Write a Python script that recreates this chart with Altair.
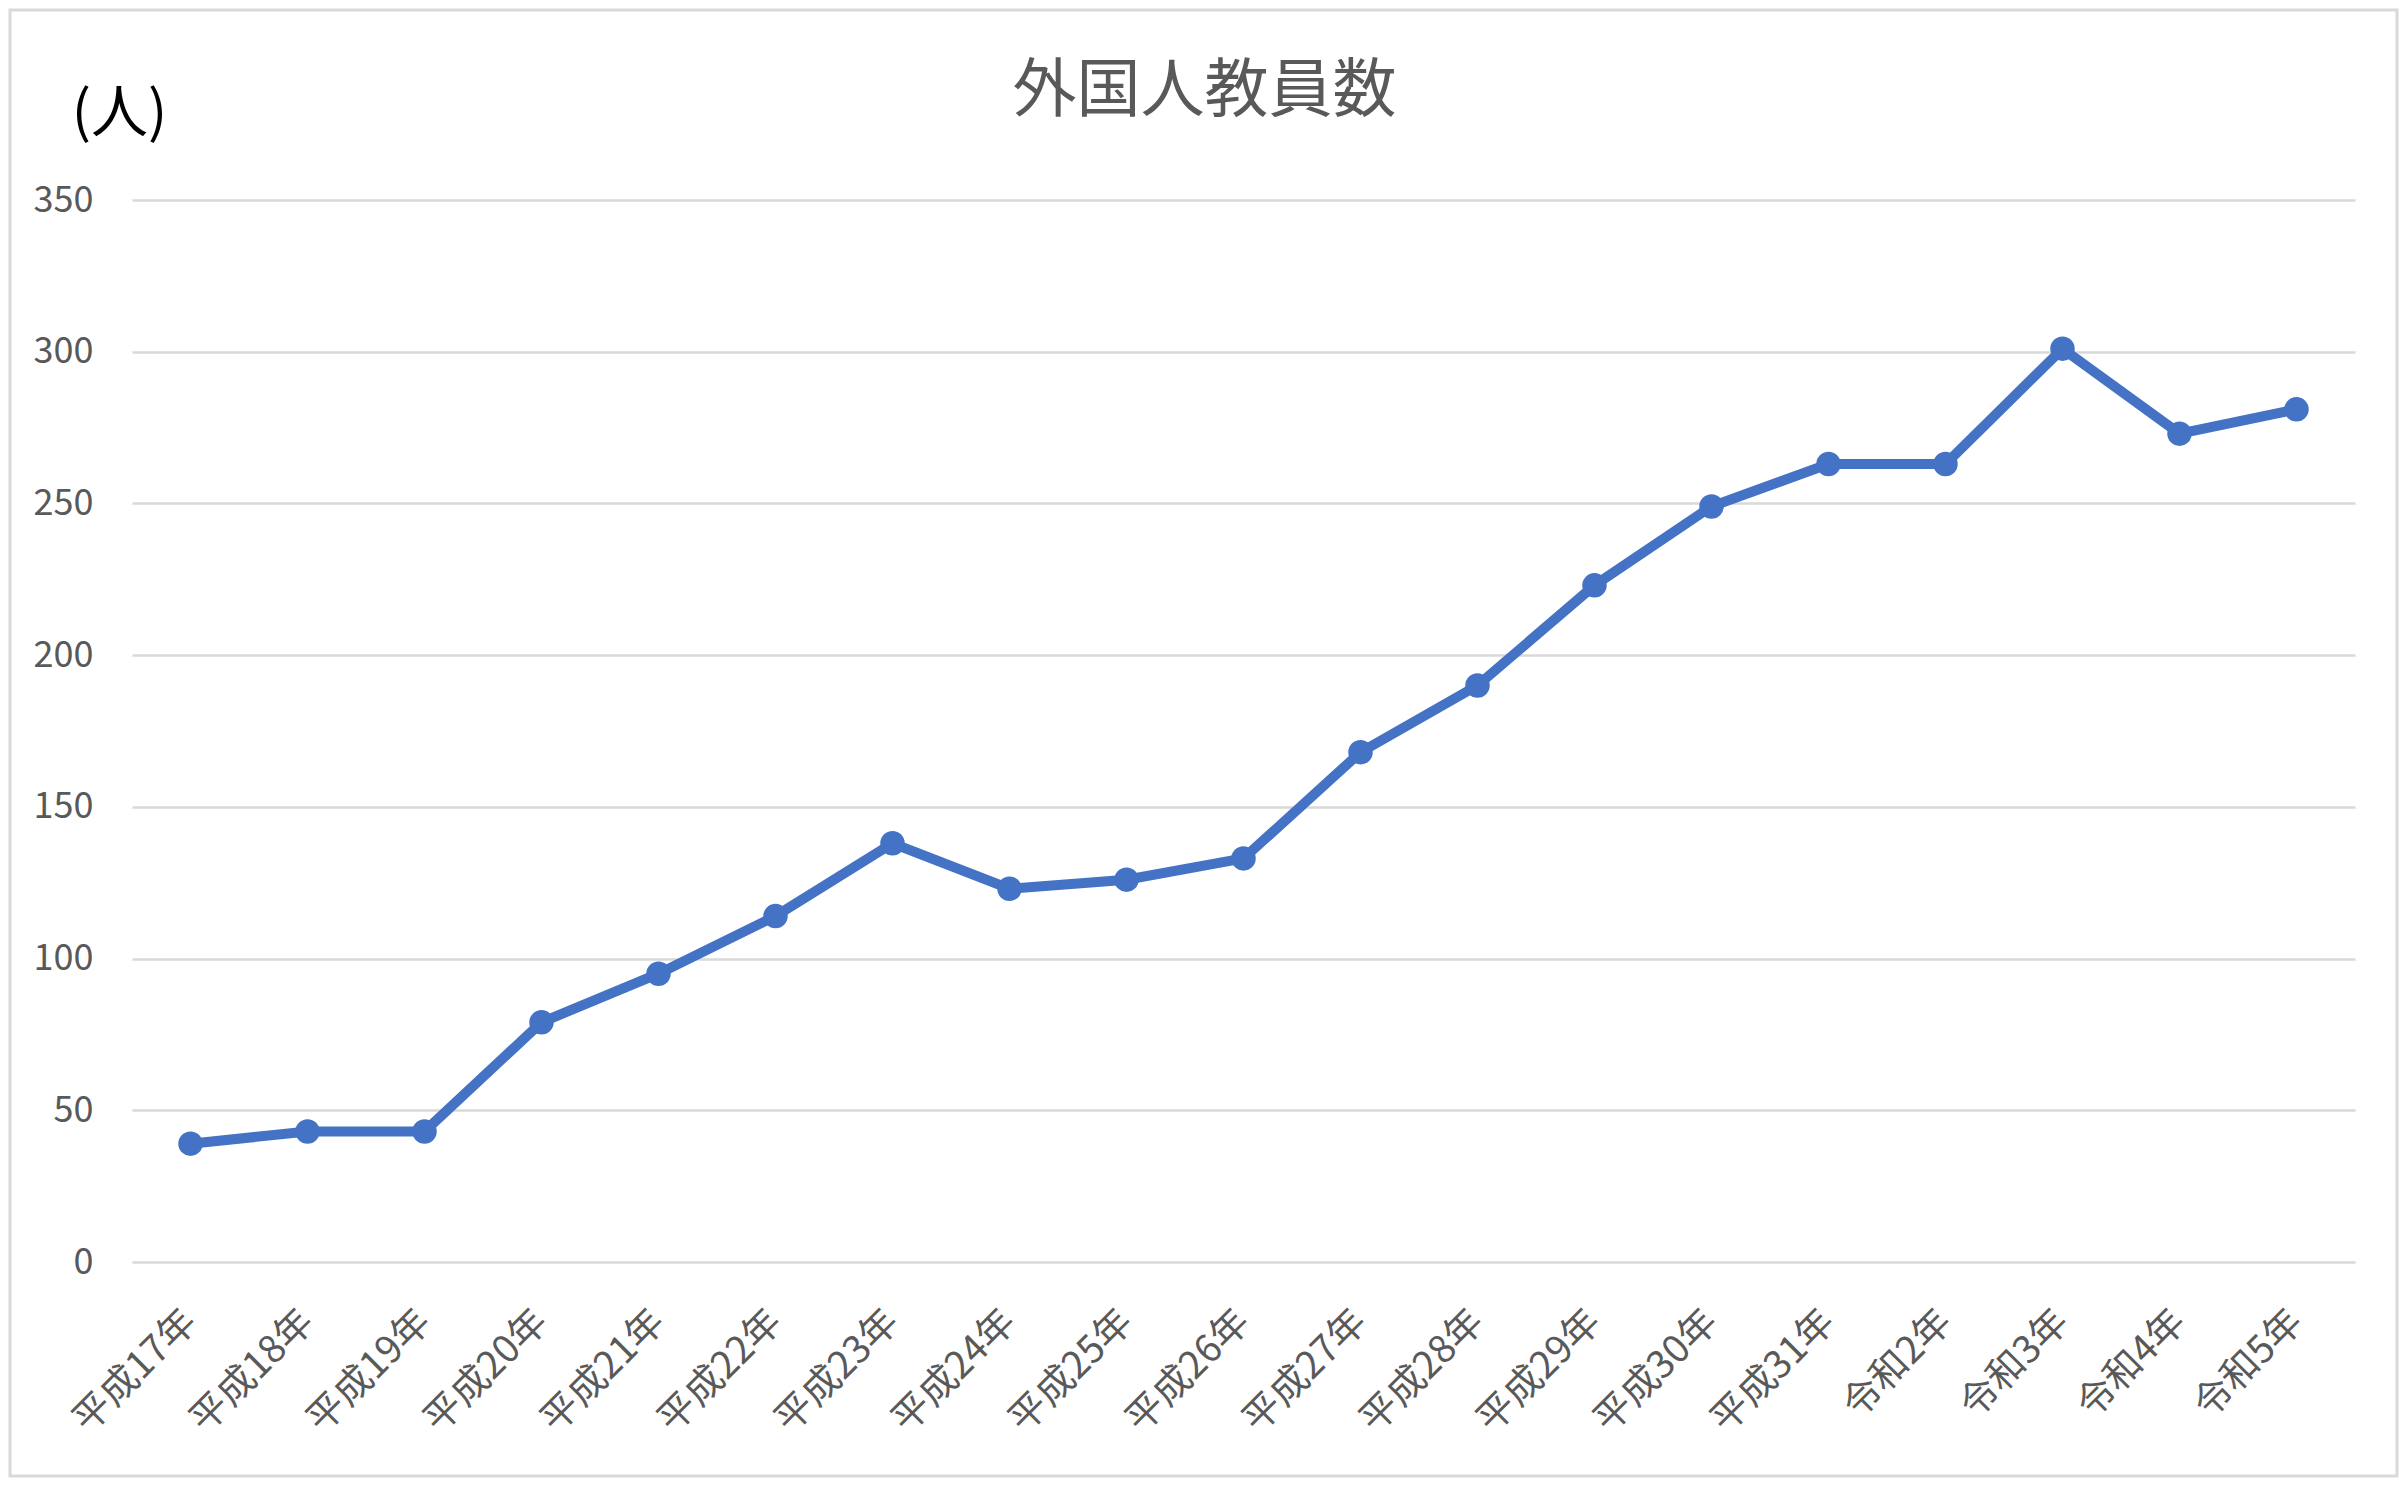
import altair as alt
import pandas as pd

categories = ["平成17年", "平成18年", "平成19年", "平成20年", "平成21年", "平成22年",
              "平成23年", "平成24年", "平成25年", "平成26年", "平成27年", "平成28年",
              "平成29年", "平成30年", "平成31年", "令和2年", "令和3年", "令和4年", "令和5年"]
teachers = [39, 43, 43, 79, 95, 114, 138, 123, 126, 133, 168, 190, 223, 249, 263, 263, 301, 273, 281]
y_ticks = [0, 50, 100, 150, 200, 250, 300, 350]

df = pd.DataFrame({"year": categories, "count": teachers})

FONT = "Noto Sans CJK JP"
TEXT = "#595959"
BLUE = "#4472C4"
W, H = 2223, 1062
PL, PT, PR, PB = 124, 192, 44, 216

base = alt.Chart(df).encode(
    x=alt.X("year:N", sort=categories,
            scale=alt.Scale(type="point", padding=0.5),
            axis=alt.Axis(title=None, labelAngle=315, labelAlign="right",
                          labelBaseline="middle", labelPadding=54,
                          labelFontSize=38, labelColor=TEXT, labelFont=FONT,
                          domain=False, ticks=False, grid=False)),
    y=alt.Y("count:Q",
            scale=alt.Scale(domain=[0, 350], nice=False, zero=True),
            axis=alt.Axis(values=y_ticks, title="(人)", titleAngle=0,
                          titleX=-13, titleY=-86, titleAlign="center",
                          titleBaseline="middle", titleFontSize=57,
                          titleFontWeight="normal", titleColor="#000000",
                          titleFont=FONT,
                          labelFontSize=36, labelColor=TEXT, labelFont=FONT,
                          labelPadding=39, domain=False, ticks=False,
                          grid=True, gridColor="#D9D9D9", gridWidth=2.5)),
)

line = base.mark_line(color=BLUE, strokeWidth=10)
points = base.mark_point(filled=True, color=BLUE, size=600, opacity=1)

border = alt.Chart(pd.DataFrame({"b": [0]})).mark_rect(
    fill=None, stroke="#D9D9D9", strokeWidth=3
).encode(
    x=alt.value(-PL + 2), x2=alt.value(W + PR - 2),
    y=alt.value(-PT + 2), y2=alt.value(H + PB - 2),
)

chart = alt.layer(line, points, border).properties(
    width=W, height=H,
    title=alt.TitleParams(text="外国人教員数", fontSize=64, font=FONT,
                          fontWeight="normal", color=TEXT, anchor="middle",
                          offset=0, dx=-39, dy=115),
    autosize=alt.AutoSizeParams(type="none"),
    padding={"left": PL, "top": PT, "right": PR, "bottom": PB},
).configure(background="white").configure_view(strokeWidth=0, stroke="transparent")

chart.save("out.html", embed_options={"renderer": "svg", "actions": False})
